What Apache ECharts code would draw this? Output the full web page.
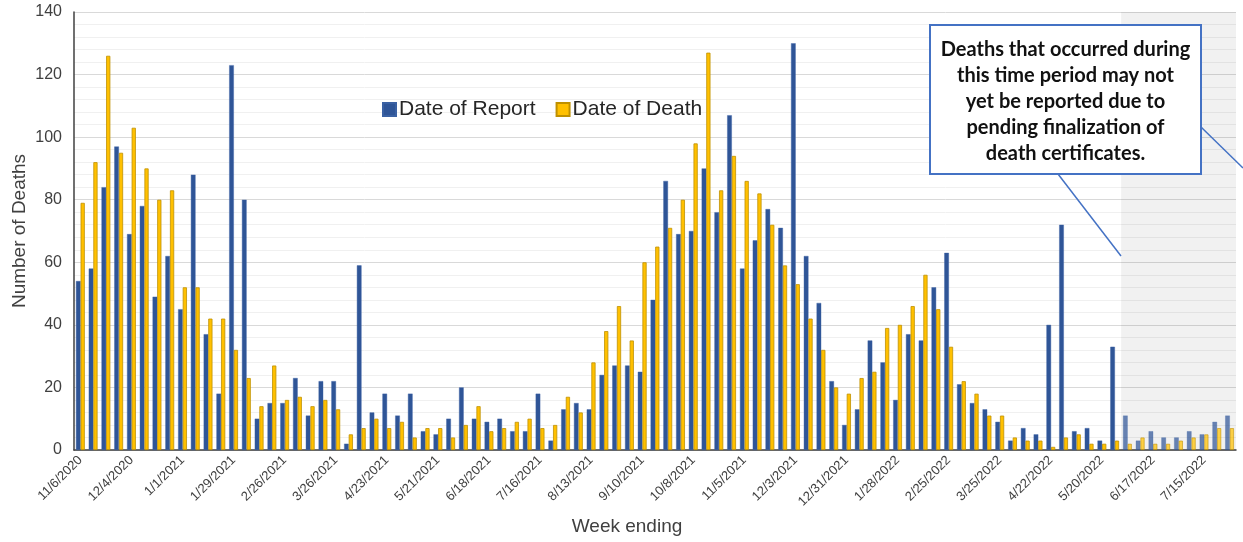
<!DOCTYPE html>
<html>
<head>
<meta charset="utf-8">
<script src="https://cdn.jsdelivr.net/npm/echarts@6/dist/echarts.min.js"></script>
<style>
  html, body { margin: 0; padding: 0; background: #fff; }
  #chart1 { width: 1243px; height: 542px; }
</style>
</head>
<body>
<div id="chart1"></div>
<script>
// week ending dates (x axis)
var weeks = [
    '11/6/2020', '11/13/2020', '11/20/2020', '11/27/2020', '12/4/2020', '12/11/2020', '12/18/2020', '12/25/2020',
    '1/1/2021', '1/8/2021', '1/15/2021', '1/22/2021', '1/29/2021', '2/5/2021', '2/12/2021', '2/19/2021',
    '2/26/2021', '3/5/2021', '3/12/2021', '3/19/2021', '3/26/2021', '4/2/2021', '4/9/2021', '4/16/2021',
    '4/23/2021', '4/30/2021', '5/7/2021', '5/14/2021', '5/21/2021', '5/28/2021', '6/4/2021', '6/11/2021',
    '6/18/2021', '6/25/2021', '7/2/2021', '7/9/2021', '7/16/2021', '7/23/2021', '7/30/2021', '8/6/2021',
    '8/13/2021', '8/20/2021', '8/27/2021', '9/3/2021', '9/10/2021', '9/17/2021', '9/24/2021', '10/1/2021',
    '10/8/2021', '10/15/2021', '10/22/2021', '10/29/2021', '11/5/2021', '11/12/2021', '11/19/2021', '11/26/2021',
    '12/3/2021', '12/10/2021', '12/17/2021', '12/24/2021', '12/31/2021', '1/7/2022', '1/14/2022', '1/21/2022',
    '1/28/2022', '2/4/2022', '2/11/2022', '2/18/2022', '2/25/2022', '3/4/2022', '3/11/2022', '3/18/2022',
    '3/25/2022', '4/1/2022', '4/8/2022', '4/15/2022', '4/22/2022', '4/29/2022', '5/6/2022', '5/13/2022',
    '5/20/2022', '5/27/2022', '6/3/2022', '6/10/2022', '6/17/2022', '6/24/2022', '7/1/2022', '7/8/2022',
    '7/15/2022', '7/22/2022', '7/29/2022'
];

var dateOfReport = [
    54, 58, 84, 97, 69, 78, 49, 62, 45, 88, 37, 18, 123, 80, 10, 15,
    15, 23, 11, 22, 22, 2, 59, 12, 18, 11, 18, 6, 5, 10, 20, 10,
    9, 10, 6, 6, 18, 3, 13, 15, 13, 24, 27, 27, 25, 48, 86, 69,
    70, 90, 76, 107, 58, 67, 77, 71, 130, 62, 47, 22, 8, 13, 35, 28,
    16, 37, 35, 52, 63, 21, 15, 13, 9, 3, 7, 5, 40, 72, 6, 7,
    3, 33, 11, 3, 6, 4, 4, 6, 5, 9, 11
];

var dateOfDeath = [
    79, 92, 126, 95, 103, 90, 80, 83, 52, 52, 42, 42, 32, 23, 14, 27,
    16, 17, 14, 16, 13, 5, 7, 10, 7, 9, 4, 7, 7, 4, 8, 14,
    6, 7, 9, 10, 7, 8, 17, 12, 28, 38, 46, 35, 60, 65, 71, 80,
    98, 127, 83, 94, 86, 82, 72, 59, 53, 42, 32, 20, 18, 23, 25, 39,
    40, 46, 56, 45, 33, 22, 18, 11, 11, 4, 3, 3, 1, 4, 5, 2,
    2, 3, 2, 4, 2, 2, 3, 4, 5, 7, 7
];

var pendingStart = 82; // first week in the shaded "may not yet be reported" period

var noteLines = [
    'Deaths that occurred during',
    'this time period may not',
    'yet be reported due to',
    'pending finalization of',
    'death certificates.'
];

function fadePending(arr) {
    var out = [];
    for (var i = 0; i < arr.length; i++) {
        if (i >= pendingStart) {
            out.push({ value: arr[i], itemStyle: { opacity: 0.72 } });
        } else {
            out.push(arr[i]);
        }
    }
    return out;
}

var myChart = echarts.init(document.getElementById('chart1'));

var option = {
    animation: false,
    grid: { left: 74, right: 7, top: 12, bottom: 92, outerBoundsMode: 'none' },
    legend: {
        left: 377,
        top: 94,
        itemWidth: 13,
        itemHeight: 13,
        itemGap: 20,
        icon: 'rect',
        textStyle: { fontFamily: 'Liberation Sans', fontSize: 21, color: '#262626', padding: [0, 0, 0, -2] },
        data: ['Date of Report', 'Date of Death']
    },
    xAxis: {
        type: 'category',
        data: weeks,
        name: 'Week ending',
        nameLocation: 'middle',
        nameGap: 67,
        nameTextStyle: { fontFamily: 'Liberation Sans', fontSize: 19, color: '#404040', padding: [0, 56, 0, 0] },
        axisLine: { lineStyle: { color: '#404040', width: 1.5 } },
        axisTick: { show: false },
        axisLabel: {
            interval: 3,
            rotate: 45,
            margin: 8,
            fontFamily: 'Liberation Sans',
            fontSize: 13,
            color: '#404040'
        }
    },
    yAxis: {
        type: 'value',
        min: 0,
        max: 140,
        interval: 20,
        name: 'Number of Deaths',
        nameLocation: 'middle',
        nameGap: 45,
        nameMoveOverlap: false,
        nameTextStyle: { fontFamily: 'Liberation Sans', fontSize: 19, color: '#404040' },
        axisLine: { show: true, lineStyle: { color: '#404040', width: 1.5 } },
        axisTick: { show: false },
        axisLabel: { fontFamily: 'Liberation Sans', fontSize: 16, color: '#404040', margin: 12 },
        splitLine: { lineStyle: { color: '#d9d9d9', width: 1 } },
        minorTick: { show: false, splitNumber: 5 },
        minorSplitLine: { show: true, lineStyle: { color: '#f0f0f0', width: 1 } }
    },
    series: [
        {
            name: 'Date of Report',
            type: 'bar',
            barWidth: 4.6,
            barGap: '0%',
            itemStyle: { color: '#2f5597', borderColor: '#3a61a3', borderWidth: 0.4 },
            data: fadePending(dateOfReport)
        },
        {
            name: 'Date of Death',
            type: 'bar',
            barWidth: 4.2,
            itemStyle: { color: '#ffc000', borderColor: '#bf9000', borderWidth: 0.8 },
            data: fadePending(dateOfDeath)
        }
    ]
};

myChart.setOption(option);

// shaded pending period, from the left edge of the first pending week to the plot's right edge
var grid = myChart.getModel().getComponent('grid').coordinateSystem.getRect();
var band = grid.width / weeks.length;
var shadeX = myChart.convertToPixel({ xAxisIndex: 0 }, weeks[pendingStart]) - band / 2;

myChart.setOption({
    graphic: [
        {
            type: 'rect',
            shape: { x: shadeX, y: grid.y, width: grid.x + grid.width - shadeX, height: grid.height },
            style: { fill: 'rgba(0,0,0,0.055)' },
            silent: true,
            z: 1
        },
        {
            type: 'line',
            shape: { x1: 1058, y1: 174, x2: 1121, y2: 256 },
            style: { stroke: '#4472c4', lineWidth: 1.5 },
            z: 10
        },
        {
            type: 'line',
            shape: { x1: 1201, y1: 127, x2: 1243, y2: 168 },
            style: { stroke: '#4472c4', lineWidth: 1.5 },
            z: 10
        },
        {
            type: 'rect',
            shape: { x: 930, y: 25, width: 271, height: 149 },
            style: { fill: '#ffffff', stroke: '#4472c4', lineWidth: 2 },
            z: 11
        },
        {
            type: 'text',
            x: 1065.5,
            y: 37,
            style: {
                text: noteLines.join('\n'),
                fontFamily: 'Lato',
                fontWeight: 'bold',
                fontSize: 20,
                lineHeight: 26,
                fill: '#111',
                align: 'center',
                verticalAlign: 'top'
            },
            z: 12
        }
    ]
});
</script>
</body>
</html>
